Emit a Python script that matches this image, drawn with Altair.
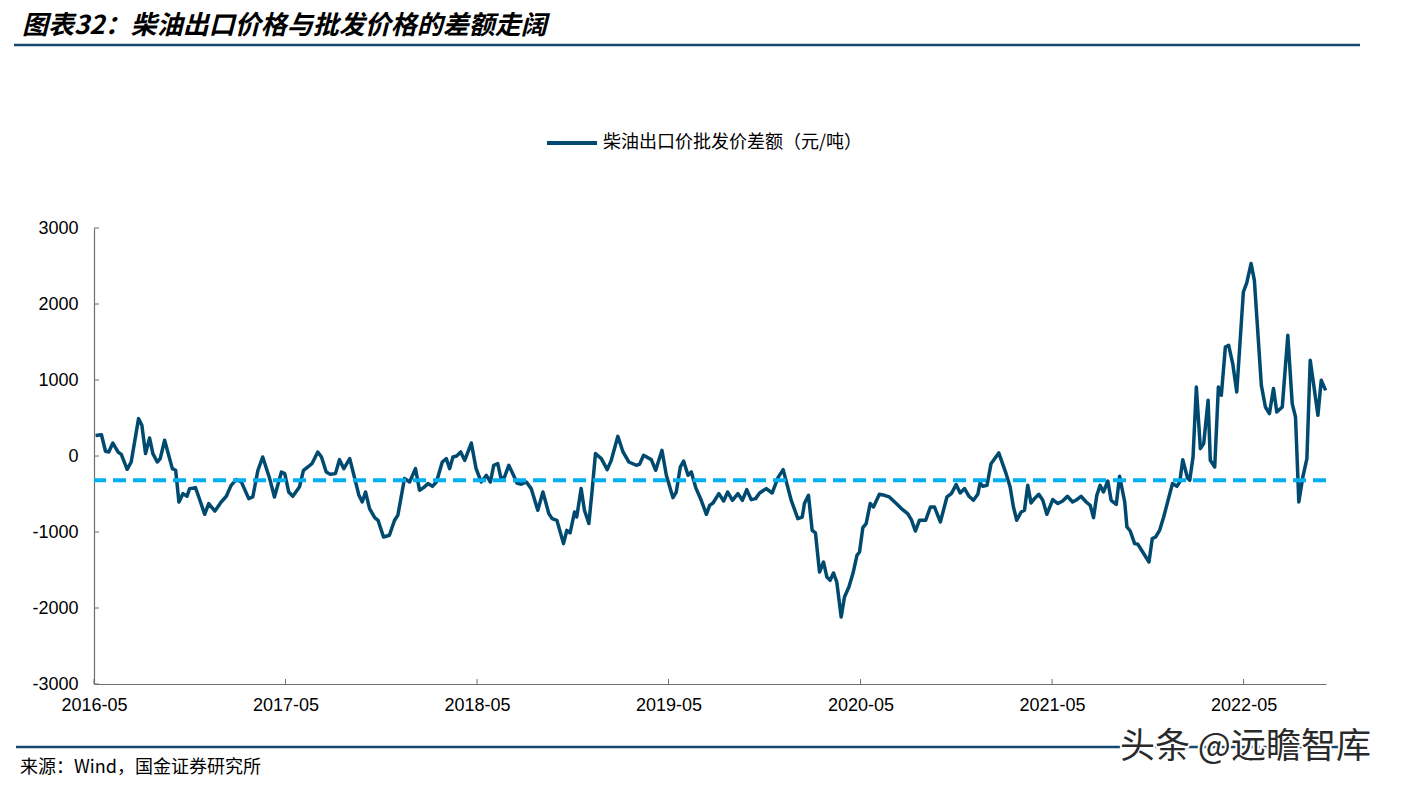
import altair as alt
import pandas as pd

TITLE = "图表32：柴油出口价格与批发价格的差额走阔"
SERIES = "柴油出口价批发价差额（元/吨）"
SOURCE = "来源：Wind，国金证券研究所"
WATERMARK = "头条 @远瞻智库"

START = "2016-05-04"
# weeks since START
weeks = [
    0, 1.6, 2.7, 3.6, 4.7, 6.1, 7.0, 8.6, 9.7, 11.7, 12.6, 13.6, 14.7, 15.6, 16.8, 17.6, 18.8, 20.9, 21.8, 22.7,
    23.8, 24.9, 25.6, 27.2, 28.1, 29.7, 30.8, 32.5, 34.2, 35.6, 36.9, 38.3, 39.7, 41.7, 42.8, 44.2, 45.5, 47.4, 48.7, 50.6,
    51.5, 52.6, 53.7, 55.5,
    56.6, 57.8, 58.9, 60.5, 61.5, 62.8, 63.9, 65.3, 66.4, 67.6, 69.2, 70.8, 71.7, 72.6, 73.5, 74.6, 76.0, 76.9, 78.4, 80.0,
    81.4, 82.3, 84.1, 85.5, 87.1, 88.2, 89.3, 90.5, 91.7, 92.8, 94.4, 95.5, 96.4, 97.3, 98.3, 99.4, 100.5, 102.3, 103.6, 105.0,
    106.4,
    107.5, 108.4, 109.5, 110.4, 111.3, 112.5, 113.8, 114.7, 115.9, 117.3, 118.6, 120.4, 121.8, 123.4, 124.3, 125.6, 127.4, 128.3, 129.2, 130.4,
    131.0, 132.2, 133.1, 134.3, 135.2, 136.1, 137.7, 139.3, 140.4, 142.2, 143.6, 145.2, 147.2, 148.1, 149.2, 151.3, 152.5, 154.2,
    155.4, 157.2, 158.1, 159.2, 160.1, 161.3, 162.2, 163.4, 164.9, 166.3, 167.2, 168.1, 169.7, 171.0, 172.1, 173.4, 174.9, 176.1, 177.3, 178.5,
    179.7, 180.8, 182.6, 184.2, 185.8, 187.2, 188.2, 189.4, 191.2, 192.4, 193.0, 194.1, 195.1, 196.0, 197.1, 198.2, 199.1, 200.0, 200.9, 201.8,
    203.0, 203.9, 205.1, 206.2, 207.3, 208.0, 208.9, 209.8, 210.9,
    211.8, 213.4, 214.8, 216.1, 218.0, 219.4, 221.1, 222.1, 223.2, 224.3, 226.0, 227.3, 228.4, 230.0, 231.8, 233.0, 234.3, 235.4, 236.6, 237.8,
    239.0, 240.2, 240.8, 241.6, 242.7, 243.8, 245.9, 247.9, 249.0, 249.9, 250.8, 252.0, 252.9, 253.8, 254.7, 255.6, 256.8, 257.9, 259.0, 260.6,
    262.0, 263.3, 264.6, 266.0, 266.9, 268.3, 269.7, 270.8, 271.7, 272.6, 273.5, 274.4, 275.6, 276.5, 277.9, 278.8, 280.2, 280.8, 281.7, 282.9,
    283.8, 285.1, 286.8, 287.7, 288.6, 289.7, 290.8, 292.0, 293.2, 294.4, 295.2, 296.0, 297.3, 297.9, 298.8,
    299.7, 300.8, 301.7, 302.9, 303.5, 304.7, 305.7, 306.5, 307.6, 308.5, 309.6, 310.7, 312.5, 313.4, 314.6, 315.5, 317.4, 318.5, 319.6, 320.7,
    321.6, 323.1, 324.6, 325.8, 326.7, 327.6, 328.7, 329.8, 330.7, 331.6, 332.8, 333.7, 334.9,
]
values = [
    270, 280, 62, 53, 171, 53, 22, -175, -79, 492, 404, 32, 237, 32, -79, -34, 207, -166, -188, -605,
    -495, -530, -429, -416, -539, -767, -626, -724, -605, -530, -386, -311, -342, -561, -539, -188, -13, -297, -539, -210,
    -232, -474, -530, -408,
    -188, -145, -101, 53, -13, -210, -241, -232, -48, -166, -34, -342, -517, -605, -474, -692, -811, -846, -1066, -1043,
    -846, -780, -297, -342, -166, -451, -416, -363, -399, -342, -79, -34, -166, -13, 0, 53, -57, 171, -166, -342,
    -254,
    -342, -122, -101, -297, -280, -122, -254, -355, -372, -342, -429, -714, -474, -758, -824, -846, -1153, -978, -1013, -737,
    -803, -429, -714, -889, -451, 32, -34, -179, -57, 259, 53, -79, -122, -110, 9, -48, -188, 75,
    -254, -548, -474, -145, -66, -254, -210, -416, -583, -767, -649, -618, -495, -592, -474, -583, -495, -583, -443, -574,
    -561, -487, -429, -487, -284, -179, -363, -583, -824, -803, -626, -517, -978, -1013, -1526, -1395, -1592, -1636, -1539, -1658,
    -2118, -1855, -1724, -1547, -1307, -1263, -942, -889, -626,
    -671, -504, -517, -539, -626, -692, -758, -837, -987, -846, -846, -671, -671, -868, -539, -495, -376, -487, -429, -530,
    -583, -504, -355, -399, -386, -101, 40, -232, -408, -671, -846, -737, -714, -386, -618, -561, -504, -583, -767, -574,
    -626, -592, -530, -605, -583, -530, -605, -649, -811, -517, -386, -474, -329, -583, -636, -267, -605, -934, -987, -1153,
    -1162, -1263, -1395, -1087, -1066, -978, -803, -583, -363, -399, -340, -50, -290, -320, -13,
    908, 97, 163, 733, -57, -145, 908, 799, 1434, 1457, 1216, 842, 2158, 2276, 2532, 2312, 930, 645, 558, 887,
    579, 645, 1588, 689, 513, -605, -276, -34, 1259, 953, 536, 996, 864,
]
avg_level = [-320]
y_ticks = [-3000, -2000, -1000, 0, 1000, 2000, 3000]
x_tick_years = [2016, 2017, 2018, 2019, 2020, 2021, 2022]

LINE = "#004A70"
DASH = "#00B0F0"
AXIS = "#6f6f6f"
RULE = "#17496E"
CJK = "Noto Sans CJK SC"
LAT = "Liberation Sans"

W, H = 1232, 456

dates = pd.Timestamp(START) + pd.to_timedelta(pd.Series(weeks) * 7, unit="D")
df = pd.DataFrame({"date": dates, "value": values, "series": SERIES})

x_domain = [alt.DateTime(year=2016, month=5, date=1), alt.DateTime(year=2022, month=10, date=5)]
x_vals = [alt.DateTime(year=y, month=5, date=1) for y in x_tick_years]
y_scale = alt.Scale(domain=[-3000, 3000], nice=False)
x_scale = alt.Scale(domain=x_domain, nice=False)

x_axis = alt.Axis(values=x_vals, format="%Y-%m", title=None, grid=False, ticks=False,
                  domainColor=AXIS, domainWidth=1.2, labelFont=LAT, labelFontSize=18,
                  labelColor="black", labelPadding=12, labelFlush=False, labelOverlap=False)
y_axis = alt.Axis(values=y_ticks, labelExpr="'' + datum.value", title=None, grid=False,
                  ticks=False, domainColor=AXIS, domainWidth=1.2, labelFont=LAT,
                  labelFontSize=18, labelColor="black", labelPadding=16)

main = alt.Chart(df).mark_line(strokeWidth=3.5, strokeJoin="round").encode(
    x=alt.X("date:T", scale=x_scale, axis=x_axis),
    y=alt.Y("value:Q", scale=y_scale, axis=y_axis),
    color=alt.Color("series:N", scale=alt.Scale(domain=[SERIES], range=[LINE]),
                    legend=alt.Legend(title=None, orient="none", legendX=451, legendY=-112,
                                      symbolType="stroke", symbolSize=2500, symbolStrokeWidth=4,
                                      labelFont=CJK, labelFontSize=18, labelColor="black",
                                      labelLimit=0, labelOffset=4)),
)

avg = alt.Chart(pd.DataFrame({"avg": avg_level})).mark_rule(
    color=DASH, strokeWidth=4, strokeDash=[13, 7]
).encode(y=alt.Y("avg:Q", scale=y_scale, axis=y_axis))

ytick_rules = alt.Chart(pd.DataFrame({"v": y_ticks})).mark_rule(color=AXIS, strokeWidth=1).encode(
    y=alt.Y("v:Q", scale=y_scale, axis=y_axis), x=alt.value(0), x2=alt.value(5)
)
xtick_rules = alt.Chart(
    pd.DataFrame({"d": pd.to_datetime([f"{y}-05-01" for y in x_tick_years])})
).mark_rule(color=AXIS, strokeWidth=1).encode(
    x=alt.X("d:T", scale=x_scale, axis=x_axis), y=alt.value(H), y2=alt.value(H - 5)
)

one = pd.DataFrame({"t": [""]})

title = alt.Chart(pd.DataFrame({"t": [TITLE]})).mark_text(
    align="left", baseline="middle", font=CJK, fontSize=26, fontWeight="bold",
    fontStyle="italic", color="black"
).encode(x=alt.value(-72), y=alt.value(-202), text="t:N")

top_rule = alt.Chart(one).mark_rule(color=RULE, strokeWidth=2.5).encode(
    x=alt.value(-80), x2=alt.value(1266), y=alt.value(-183)
)
bottom_rule = alt.Chart(one).mark_rule(color=RULE, strokeWidth=2.5).encode(
    x=alt.value(-78), x2=alt.value(1266), y=alt.value(519)
)
source = alt.Chart(pd.DataFrame({"t": [SOURCE]})).mark_text(
    align="left", baseline="middle", font=CJK, fontSize=18, color="black"
).encode(x=alt.value(-74), y=alt.value(540), text="t:N")

wm_halo = alt.Chart(pd.DataFrame({"t": [WATERMARK]})).mark_text(
    align="left", baseline="middle", font=CJK, fontSize=35, color="white",
    stroke="white", strokeWidth=4
).encode(x=alt.value(1026), y=alt.value(519), text="t:N")
wm = alt.Chart(pd.DataFrame({"t": [WATERMARK]})).mark_text(
    align="left", baseline="middle", font=CJK, fontSize=35, color="#2a2a2a"
).encode(x=alt.value(1026), y=alt.value(519), text="t:N")

chart = alt.layer(
    main, avg, ytick_rules, xtick_rules, title, top_rule, bottom_rule, source, wm_halo, wm
).properties(
    width=W, height=H,
    padding={"left": 86, "top": 220, "right": 67, "bottom": 98},
    autosize=alt.AutoSizeParams(type="none"),
    background="white",
).configure_view(stroke=None)

chart.save("out.html", embed_options={"renderer": "svg", "actions": False})
